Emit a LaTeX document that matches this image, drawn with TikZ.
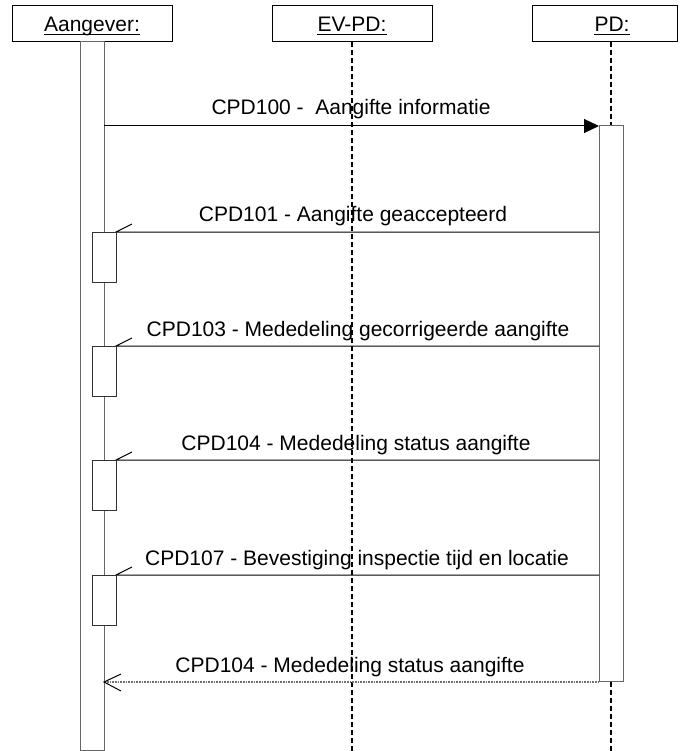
\documentclass[tikz,border=0pt]{standalone}
\usepackage{fontspec}
\setmainfont{Liberation Sans}
\usetikzlibrary{arrows.meta}
\begin{document}
\begin{tikzpicture}[x=1pt,y=-1pt,
  font=\fontsize{21}{25}\selectfont,
  head/.style={draw, line width=1pt, minimum height=36pt, inner sep=0pt, outer sep=0pt},
  lifeline/.style={line width=1.6pt, dash pattern=on 5pt off 3pt},
  bar/.style={draw=black!60, fill=white, line width=1pt},
  actbox/.style={draw=black!80, fill=white, line width=1pt},
  msg/.style={line width=1pt},
  retmsg/.style={draw=black!55, line width=1.4pt, dash pattern=on 1pt off 0.6pt},
  lbl/.style={anchor=base, inner sep=0pt}]
\useasboundingbox (0,0) rectangle (679,751);
% header boxes
\node[head, minimum width=160pt] (hA) at (92,24) {};
\node[head, minimum width=160pt] (hE) at (352,24) {};
\node[head, minimum width=145pt] (hP) at (604.5,24) {};
\node[lbl] (tA) at (92,31.5) {Aangever:};
\node[lbl] (tE) at (352,31.5) {EV-PD:};
\node[lbl] (tP) at (612,31.5) {PD:};
\foreach \t in {tA,tE,tP}
  \draw[line width=0.9pt] ([yshift=-2.6pt]\t.base west) -- ([yshift=-2.6pt]\t.base east);
% labels
\node[lbl] (m1) at (351,115) {CPD100 -\ \ Aangifte informatie};
\node[lbl] (m2) at (353,222) {CPD101 - Aangifte geaccepteerd};
\node[lbl] (m3) at (358,336) {CPD103 - Mededeling gecorrigeerde aangifte};
\node[lbl] (m4) at (356,450) {CPD104 - Mededeling status aangifte};
\node[lbl] (m5) at (357,565) {CPD107 - Bevestiging inspectie tijd en locatie};
\node[lbl] (m6) at (350,672) {CPD104 - Mededeling status aangifte};
% lifelines
\coordinate (eTop) at (352,42);
\coordinate (eBot) at (352,751);
\coordinate (pTop) at (611,42);
\coordinate (pBot) at (611,751);
\draw[lifeline] (eTop) -- (eBot);
\draw[lifeline] (pTop) -- (pBot);
% activation bars
\draw[bar] (80,42) rectangle (104,750);
\draw[bar] (599,126) rectangle (623,681);
% message 1
\coordinate (a1) at (104,126);
\coordinate (p1) at (599,126);
\draw[msg, -{Triangle[length=15pt,width=14pt]}] (a1) -- (p1);
% return messages
\foreach \y/\n in {232/2,346/3,460/4,575/5}{
  \coordinate (p\n) at (599,\y);
  \coordinate (a\n) at (116,\y);
  \draw[msg] (p\n) -- (a\n) -- ++(16,-8);
  \draw[actbox] (92,\y) rectangle (116,\y+50);
}
% final reply
\coordinate (p6) at (599,682);
\coordinate (a6) at (104,682);
\draw[retmsg] (p6) -- (a6);
\draw[msg] ([xshift=17pt,yshift=-9pt]a6) -- (a6) -- ([xshift=17pt,yshift=8pt]a6);
\end{tikzpicture}
\end{document}
